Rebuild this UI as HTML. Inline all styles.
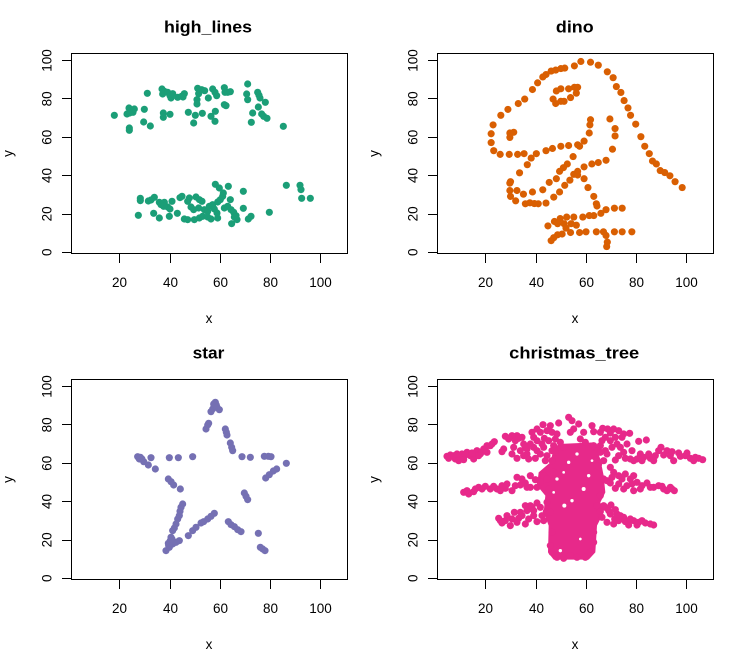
<!DOCTYPE html>
<html><head><meta charset="utf-8"><style>
html,body{margin:0;padding:0;background:#fff;}
svg{display:block;}
text{font-family:"Liberation Sans",Arial,sans-serif;fill:#000;}
.t{font-weight:bold;font-size:17px;}
.l{font-size:13.5px;}
</style></head><body>
<svg width="731" height="652" viewBox="0 0 731 652" xmlns="http://www.w3.org/2000/svg">
<rect width="731" height="652" fill="#fff"/>
<defs>
<g id="ax">
<rect x="71.5" y="53.5" width="276" height="200" fill="none" stroke="#000" stroke-width="1"/>
<g stroke="#000" stroke-width="1" shape-rendering="crispEdges">
<line x1="62" y1="252.5" x2="71" y2="252.5"/>
<line x1="62" y1="214.5" x2="71" y2="214.5"/>
<line x1="62" y1="175.5" x2="71" y2="175.5"/>
<line x1="62" y1="137.5" x2="71" y2="137.5"/>
<line x1="62" y1="98.5" x2="71" y2="98.5"/>
<line x1="62" y1="60.5" x2="71" y2="60.5"/>
<line x1="119.5" y1="254" x2="119.5" y2="263"/>
<line x1="170.5" y1="254" x2="170.5" y2="263"/>
<line x1="220.5" y1="254" x2="220.5" y2="263"/>
<line x1="270.5" y1="254" x2="270.5" y2="263"/>
<line x1="320.5" y1="254" x2="320.5" y2="263"/>
</g>
<g class="l" text-anchor="middle">
<text x="119.5" y="287">20</text>
<text x="170.5" y="287">40</text>
<text x="220.5" y="287">60</text>
<text x="270.5" y="287">80</text>
<text x="320.5" y="287">100</text>
<text transform="translate(51.6,252.2) rotate(-90)">0</text>
<text transform="translate(51.6,213.9) rotate(-90)">20</text>
<text transform="translate(51.6,175.5) rotate(-90)">40</text>
<text transform="translate(51.6,137.2) rotate(-90)">60</text>
<text transform="translate(51.6,98.9) rotate(-90)">80</text>
<text transform="translate(51.6,60.5) rotate(-90)">100</text>
<text x="209" y="323">x</text>
<text transform="translate(12.5,153.5) rotate(-90)">y</text>
</g>
</g>
</defs>

<!-- Panel 1: high_lines -->
<use href="#ax"/>
<text class="t" x="208" y="32.7" text-anchor="middle" textLength="88" lengthAdjust="spacingAndGlyphs">high_lines</text>
<g transform="translate(71,53) scale(0.33333)" fill="#1B9E77">
<circle cx="130" cy="187" r="10.7"/><circle cx="229" cy="121" r="10.7"/>
<circle cx="174" cy="165" r="10.7"/><circle cx="180" cy="172" r="10.7"/><circle cx="168" cy="183" r="10.7"/><circle cx="186" cy="178" r="10.7"/><circle cx="190" cy="168" r="10.7"/><circle cx="176" cy="180" r="10.7"/>
<circle cx="220" cy="169" r="10.7"/><circle cx="175" cy="225" r="10.7"/><circle cx="175" cy="232" r="10.7"/>
<circle cx="218" cy="207" r="10.7"/><circle cx="238" cy="219" r="10.7"/>
<circle cx="273" cy="108" r="10.7"/><circle cx="280" cy="115" r="10.7"/><circle cx="275" cy="123" r="10.7"/><circle cx="290" cy="118" r="10.7"/><circle cx="297" cy="128" r="10.7"/><circle cx="300" cy="135" r="10.7"/><circle cx="305" cy="122" r="10.7"/>
<circle cx="277" cy="180" r="10.7"/><circle cx="277" cy="193" r="10.7"/><circle cx="297" cy="184" r="10.7"/>
<circle cx="320" cy="133" r="10.7"/><circle cx="332" cy="130" r="10.7"/><circle cx="340" cy="122" r="10.7"/><circle cx="336" cy="132" r="10.7"/>
<circle cx="352" cy="178" r="10.7"/><circle cx="368" cy="210" r="10.7"/><circle cx="373" cy="187" r="10.7"/><circle cx="394" cy="181" r="10.7"/>
<circle cx="380" cy="106" r="10.7"/><circle cx="392" cy="110" r="10.7"/><circle cx="383" cy="122" r="10.7"/><circle cx="378" cy="140" r="10.7"/><circle cx="378" cy="153" r="10.7"/><circle cx="401" cy="113" r="10.7"/>
<circle cx="412" cy="135" r="10.7"/><circle cx="425" cy="108" r="10.7"/><circle cx="432" cy="118" r="10.7"/><circle cx="437" cy="128" r="10.7"/>
<circle cx="433" cy="175" r="10.7"/><circle cx="420" cy="190" r="10.7"/><circle cx="432" cy="205" r="10.7"/>
<circle cx="460" cy="104" r="10.7"/><circle cx="462" cy="118" r="10.7"/><circle cx="470" cy="118" r="10.7"/><circle cx="478" cy="116" r="10.7"/><circle cx="460" cy="155" r="10.7"/><circle cx="465" cy="158" r="10.7"/>
<circle cx="530" cy="93" r="10.7"/><circle cx="527" cy="123" r="10.7"/><circle cx="530" cy="140" r="10.7"/>
<circle cx="560" cy="118" r="10.7"/><circle cx="564" cy="127" r="10.7"/><circle cx="567" cy="135" r="10.7"/>
<circle cx="583" cy="148" r="10.7"/><circle cx="562" cy="162" r="10.7"/><circle cx="545" cy="180" r="10.7"/><circle cx="541" cy="208" r="10.7"/>
<circle cx="572" cy="183" r="10.7"/><circle cx="578" cy="190" r="10.7"/><circle cx="588" cy="196" r="10.7"/><circle cx="637" cy="220" r="10.7"/>
<circle cx="208" cy="436" r="10.7"/><circle cx="208" cy="443" r="10.7"/>
<circle cx="232" cy="444" r="10.7"/><circle cx="250" cy="433" r="10.7"/><circle cx="240" cy="441" r="10.7"/>
<circle cx="265" cy="448" r="10.7"/><circle cx="270" cy="455" r="10.7"/><circle cx="280" cy="448" r="10.7"/><circle cx="290" cy="462" r="10.7"/><circle cx="297" cy="468" r="10.7"/><circle cx="303" cy="445" r="10.7"/><circle cx="278" cy="460" r="10.7"/>
<circle cx="202" cy="487" r="10.7"/><circle cx="248" cy="481" r="10.7"/><circle cx="265" cy="495" r="10.7"/><circle cx="295" cy="490" r="10.7"/><circle cx="319" cy="481" r="10.7"/>
<circle cx="327" cy="434" r="10.7"/><circle cx="333" cy="430" r="10.7"/><circle cx="355" cy="435" r="10.7"/><circle cx="350" cy="445" r="10.7"/><circle cx="360" cy="462" r="10.7"/><circle cx="368" cy="470" r="10.7"/>
<circle cx="375" cy="432" r="10.7"/><circle cx="385" cy="440" r="10.7"/><circle cx="393" cy="445" r="10.7"/><circle cx="383" cy="465" r="10.7"/>
<circle cx="340" cy="498" r="10.7"/><circle cx="350" cy="500" r="10.7"/><circle cx="370" cy="500" r="10.7"/><circle cx="385" cy="495" r="10.7"/><circle cx="395" cy="490" r="10.7"/><circle cx="410" cy="492" r="10.7"/><circle cx="420" cy="498" r="10.7"/><circle cx="440" cy="495" r="10.7"/>
<circle cx="400" cy="470" r="10.7"/><circle cx="410" cy="475" r="10.7"/><circle cx="415" cy="460" r="10.7"/><circle cx="425" cy="455" r="10.7"/><circle cx="430" cy="468" r="10.7"/><circle cx="438" cy="480" r="10.7"/><circle cx="440" cy="447" r="10.7"/><circle cx="448" cy="440" r="10.7"/><circle cx="455" cy="430" r="10.7"/>
<circle cx="433" cy="394" r="10.7"/><circle cx="445" cy="405" r="10.7"/><circle cx="457" cy="420" r="10.7"/><circle cx="472" cy="400" r="10.7"/><circle cx="478" cy="440" r="10.7"/>
<circle cx="460" cy="465" r="10.7"/><circle cx="470" cy="460" r="10.7"/><circle cx="480" cy="470" r="10.7"/><circle cx="488" cy="478" r="10.7"/><circle cx="495" cy="488" r="10.7"/><circle cx="498" cy="500" r="10.7"/><circle cx="490" cy="492" r="10.7"/><circle cx="482" cy="512" r="10.7"/>
<circle cx="517" cy="415" r="10.7"/><circle cx="517" cy="466" r="10.7"/><circle cx="532" cy="498" r="10.7"/><circle cx="540" cy="490" r="10.7"/>
<circle cx="595" cy="478" r="10.7"/><circle cx="646" cy="397" r="10.7"/>
<circle cx="687" cy="397" r="10.7"/><circle cx="690" cy="410" r="10.7"/><circle cx="692" cy="436" r="10.7"/><circle cx="718" cy="436" r="10.7"/>
</g>

<!-- Panel 2: dino -->
<use href="#ax" transform="translate(366,0)"/>
<text class="t" x="574.8" y="32.7" text-anchor="middle" textLength="37.7" lengthAdjust="spacingAndGlyphs">dino</text>
<g transform="translate(435,252.2) scale(2.517,-1.917)" fill="#D95F02">
<ellipse rx="1.42" ry="1.86" cx="55.38" cy="97.18"/><ellipse rx="1.42" ry="1.86" cx="51.54" cy="96.03"/><ellipse rx="1.42" ry="1.86" cx="46.15" cy="94.49"/><ellipse rx="1.42" ry="1.86" cx="42.82" cy="91.41"/><ellipse rx="1.42" ry="1.86" cx="40.77" cy="88.33"/><ellipse rx="1.42" ry="1.86" cx="38.72" cy="84.87"/><ellipse rx="1.42" ry="1.86" cx="35.64" cy="79.87"/><ellipse rx="1.42" ry="1.86" cx="33.08" cy="77.56"/><ellipse rx="1.42" ry="1.86" cx="28.97" cy="74.49"/><ellipse rx="1.42" ry="1.86" cx="26.15" cy="71.41"/><ellipse rx="1.42" ry="1.86" cx="23.08" cy="66.41"/><ellipse rx="1.42" ry="1.86" cx="22.31" cy="61.79"/><ellipse rx="1.42" ry="1.86" cx="22.31" cy="57.18"/><ellipse rx="1.42" ry="1.86" cx="23.33" cy="52.95"/><ellipse rx="1.42" ry="1.86" cx="25.90" cy="51.03"/><ellipse rx="1.42" ry="1.86" cx="29.49" cy="51.03"/><ellipse rx="1.42" ry="1.86" cx="32.82" cy="51.03"/><ellipse rx="1.42" ry="1.86" cx="35.38" cy="51.41"/><ellipse rx="1.42" ry="1.86" cx="40.26" cy="51.41"/><ellipse rx="1.42" ry="1.86" cx="44.10" cy="52.95"/><ellipse rx="1.42" ry="1.86" cx="46.67" cy="54.10"/><ellipse rx="1.42" ry="1.86" cx="50.00" cy="55.26"/><ellipse rx="1.42" ry="1.86" cx="53.08" cy="55.64"/><ellipse rx="1.42" ry="1.86" cx="56.67" cy="56.03"/><ellipse rx="1.42" ry="1.86" cx="59.23" cy="57.95"/><ellipse rx="1.42" ry="1.86" cx="61.28" cy="62.18"/><ellipse rx="1.42" ry="1.86" cx="61.54" cy="66.41"/><ellipse rx="1.42" ry="1.86" cx="61.79" cy="69.10"/><ellipse rx="1.42" ry="1.86" cx="57.44" cy="55.26"/><ellipse rx="1.42" ry="1.86" cx="54.87" cy="49.87"/><ellipse rx="1.42" ry="1.86" cx="52.56" cy="46.03"/><ellipse rx="1.42" ry="1.86" cx="48.21" cy="38.33"/><ellipse rx="1.42" ry="1.86" cx="49.49" cy="42.18"/><ellipse rx="1.42" ry="1.86" cx="51.03" cy="44.10"/><ellipse rx="1.42" ry="1.86" cx="45.38" cy="36.41"/><ellipse rx="1.42" ry="1.86" cx="42.82" cy="32.56"/><ellipse rx="1.42" ry="1.86" cx="38.72" cy="31.41"/><ellipse rx="1.42" ry="1.86" cx="35.13" cy="30.26"/><ellipse rx="1.42" ry="1.86" cx="32.56" cy="32.18"/><ellipse rx="1.42" ry="1.86" cx="30.00" cy="36.79"/><ellipse rx="1.42" ry="1.86" cx="33.59" cy="41.41"/><ellipse rx="1.42" ry="1.86" cx="36.67" cy="45.64"/><ellipse rx="1.42" ry="1.86" cx="38.21" cy="49.10"/><ellipse rx="1.42" ry="1.86" cx="29.74" cy="36.03"/><ellipse rx="1.42" ry="1.86" cx="29.74" cy="32.18"/><ellipse rx="1.42" ry="1.86" cx="30.00" cy="29.10"/><ellipse rx="1.42" ry="1.86" cx="32.05" cy="26.79"/><ellipse rx="1.42" ry="1.86" cx="35.90" cy="25.26"/><ellipse rx="1.42" ry="1.86" cx="41.03" cy="25.26"/><ellipse rx="1.42" ry="1.86" cx="44.10" cy="25.64"/><ellipse rx="1.42" ry="1.86" cx="47.18" cy="28.72"/><ellipse rx="1.42" ry="1.86" cx="49.49" cy="31.41"/><ellipse rx="1.42" ry="1.86" cx="51.54" cy="34.87"/><ellipse rx="1.42" ry="1.86" cx="53.59" cy="37.56"/><ellipse rx="1.42" ry="1.86" cx="55.13" cy="40.64"/><ellipse rx="1.42" ry="1.86" cx="56.67" cy="42.18"/><ellipse rx="1.42" ry="1.86" cx="59.23" cy="44.49"/><ellipse rx="1.42" ry="1.86" cx="62.31" cy="46.03"/><ellipse rx="1.42" ry="1.86" cx="64.87" cy="46.79"/><ellipse rx="1.42" ry="1.86" cx="67.95" cy="47.95"/><ellipse rx="1.42" ry="1.86" cx="70.51" cy="53.72"/><ellipse rx="1.42" ry="1.86" cx="71.54" cy="60.64"/><ellipse rx="1.42" ry="1.86" cx="71.54" cy="64.49"/><ellipse rx="1.42" ry="1.86" cx="69.49" cy="69.49"/><ellipse rx="1.42" ry="1.86" cx="46.92" cy="79.87"/><ellipse rx="1.42" ry="1.86" cx="48.21" cy="84.10"/><ellipse rx="1.42" ry="1.86" cx="50.00" cy="85.26"/><ellipse rx="1.42" ry="1.86" cx="53.08" cy="85.26"/><ellipse rx="1.42" ry="1.86" cx="55.38" cy="86.03"/><ellipse rx="1.42" ry="1.86" cx="56.67" cy="86.03"/><ellipse rx="1.42" ry="1.86" cx="56.15" cy="82.95"/><ellipse rx="1.42" ry="1.86" cx="53.85" cy="80.64"/><ellipse rx="1.42" ry="1.86" cx="51.28" cy="78.72"/><ellipse rx="1.42" ry="1.86" cx="50.00" cy="78.72"/><ellipse rx="1.42" ry="1.86" cx="47.95" cy="77.56"/><ellipse rx="1.42" ry="1.86" cx="29.74" cy="59.87"/><ellipse rx="1.42" ry="1.86" cx="29.74" cy="62.18"/><ellipse rx="1.42" ry="1.86" cx="31.28" cy="62.56"/><ellipse rx="1.42" ry="1.86" cx="57.95" cy="99.49"/><ellipse rx="1.42" ry="1.86" cx="61.79" cy="99.10"/><ellipse rx="1.42" ry="1.86" cx="64.87" cy="97.56"/><ellipse rx="1.42" ry="1.86" cx="68.46" cy="94.10"/><ellipse rx="1.42" ry="1.86" cx="70.77" cy="91.03"/><ellipse rx="1.42" ry="1.86" cx="72.05" cy="86.41"/><ellipse rx="1.42" ry="1.86" cx="73.85" cy="83.33"/><ellipse rx="1.42" ry="1.86" cx="75.13" cy="79.10"/><ellipse rx="1.42" ry="1.86" cx="76.67" cy="75.26"/><ellipse rx="1.42" ry="1.86" cx="77.69" cy="71.41"/><ellipse rx="1.42" ry="1.86" cx="79.74" cy="66.79"/><ellipse rx="1.42" ry="1.86" cx="81.79" cy="60.26"/><ellipse rx="1.42" ry="1.86" cx="83.33" cy="55.26"/><ellipse rx="1.42" ry="1.86" cx="85.13" cy="51.41"/><ellipse rx="1.42" ry="1.86" cx="86.41" cy="47.56"/><ellipse rx="1.42" ry="1.86" cx="87.95" cy="46.03"/><ellipse rx="1.42" ry="1.86" cx="89.49" cy="42.56"/><ellipse rx="1.42" ry="1.86" cx="93.33" cy="39.87"/><ellipse rx="1.42" ry="1.86" cx="95.38" cy="36.79"/><ellipse rx="1.42" ry="1.86" cx="98.21" cy="33.72"/><ellipse rx="1.42" ry="1.86" cx="56.67" cy="40.26"/><ellipse rx="1.42" ry="1.86" cx="59.23" cy="38.33"/><ellipse rx="1.42" ry="1.86" cx="60.77" cy="33.72"/><ellipse rx="1.42" ry="1.86" cx="63.08" cy="29.10"/><ellipse rx="1.42" ry="1.86" cx="64.10" cy="25.26"/><ellipse rx="1.42" ry="1.86" cx="64.36" cy="24.10"/><ellipse rx="1.42" ry="1.86" cx="74.36" cy="22.95"/><ellipse rx="1.42" ry="1.86" cx="71.28" cy="22.95"/><ellipse rx="1.42" ry="1.86" cx="67.95" cy="22.18"/><ellipse rx="1.42" ry="1.86" cx="65.90" cy="20.26"/><ellipse rx="1.42" ry="1.86" cx="63.08" cy="19.10"/><ellipse rx="1.42" ry="1.86" cx="61.28" cy="19.10"/><ellipse rx="1.42" ry="1.86" cx="58.72" cy="18.33"/><ellipse rx="1.42" ry="1.86" cx="55.13" cy="18.33"/><ellipse rx="1.42" ry="1.86" cx="52.31" cy="18.33"/><ellipse rx="1.42" ry="1.86" cx="49.74" cy="17.56"/><ellipse rx="1.42" ry="1.86" cx="47.44" cy="16.03"/><ellipse rx="1.42" ry="1.86" cx="44.87" cy="13.72"/><ellipse rx="1.42" ry="1.86" cx="48.72" cy="14.87"/><ellipse rx="1.42" ry="1.86" cx="51.28" cy="14.87"/><ellipse rx="1.42" ry="1.86" cx="54.10" cy="14.87"/><ellipse rx="1.42" ry="1.86" cx="56.15" cy="14.10"/><ellipse rx="1.42" ry="1.86" cx="52.05" cy="12.56"/><ellipse rx="1.42" ry="1.86" cx="48.72" cy="9.10"/><ellipse rx="1.42" ry="1.86" cx="47.18" cy="7.56"/><ellipse rx="1.42" ry="1.86" cx="46.15" cy="6.03"/><ellipse rx="1.42" ry="1.86" cx="50.51" cy="9.49"/><ellipse rx="1.42" ry="1.86" cx="53.85" cy="10.26"/><ellipse rx="1.42" ry="1.86" cx="57.44" cy="10.26"/><ellipse rx="1.42" ry="1.86" cx="60.00" cy="10.64"/><ellipse rx="1.42" ry="1.86" cx="64.10" cy="10.64"/><ellipse rx="1.42" ry="1.86" cx="66.92" cy="10.64"/><ellipse rx="1.42" ry="1.86" cx="71.28" cy="10.64"/><ellipse rx="1.42" ry="1.86" cx="74.36" cy="10.64"/><ellipse rx="1.42" ry="1.86" cx="78.21" cy="10.64"/><ellipse rx="1.42" ry="1.86" cx="67.95" cy="8.72"/><ellipse rx="1.42" ry="1.86" cx="68.46" cy="5.26"/><ellipse rx="1.42" ry="1.86" cx="68.21" cy="2.95"/><ellipse rx="1.42" ry="1.86" cx="37.69" cy="25.77"/><ellipse rx="1.42" ry="1.86" cx="39.49" cy="25.38"/><ellipse rx="1.42" ry="1.86" cx="91.28" cy="41.54"/><ellipse rx="1.42" ry="1.86" cx="50.00" cy="95.77"/><ellipse rx="1.42" ry="1.86" cx="47.95" cy="95.00"/><ellipse rx="1.42" ry="1.86" cx="44.10" cy="92.69"/>
</g>

<!-- Panel 3: star -->
<use href="#ax" transform="translate(0,326)"/>
<text class="t" x="208.5" y="358.7" text-anchor="middle" textLength="31.7" lengthAdjust="spacingAndGlyphs">star</text>
<g transform="translate(71,379) scale(0.33333)" fill="#7570B3">
<circle cx="433" cy="70" r="10.7"/><circle cx="430" cy="80" r="10.7"/><circle cx="425" cy="90" r="10.7"/><circle cx="420" cy="98" r="10.7"/><circle cx="438" cy="85" r="10.7"/><circle cx="445" cy="92" r="10.7"/><circle cx="428" cy="75" r="10.7"/><circle cx="436" cy="78" r="10.7"/>
<circle cx="410" cy="138" r="10.7"/><circle cx="405" cy="150" r="10.7"/><circle cx="413" cy="133" r="10.7"/>
<circle cx="463" cy="150" r="10.7"/><circle cx="466" cy="160" r="10.7"/><circle cx="468" cy="168" r="10.7"/>
<circle cx="478" cy="192" r="10.7"/><circle cx="482" cy="205" r="10.7"/><circle cx="485" cy="215" r="10.7"/>
<circle cx="513" cy="233" r="10.7"/><circle cx="538" cy="235" r="10.7"/>
<circle cx="580" cy="232" r="10.7"/><circle cx="592" cy="232" r="10.7"/><circle cx="600" cy="233" r="10.7"/>
<circle cx="646" cy="253" r="10.7"/>
<circle cx="617" cy="270" r="10.7"/><circle cx="607" cy="276" r="10.7"/><circle cx="595" cy="287" r="10.7"/><circle cx="584" cy="297" r="10.7"/>
<circle cx="520" cy="342" r="10.7"/><circle cx="525" cy="352" r="10.7"/><circle cx="530" cy="362" r="10.7"/>
<circle cx="472" cy="428" r="10.7"/><circle cx="480" cy="437" r="10.7"/><circle cx="490" cy="443" r="10.7"/><circle cx="500" cy="452" r="10.7"/><circle cx="510" cy="458" r="10.7"/>
<circle cx="562" cy="463" r="10.7"/>
<circle cx="568" cy="505" r="10.7"/><circle cx="575" cy="510" r="10.7"/><circle cx="582" cy="515" r="10.7"/>
<circle cx="430" cy="403" r="10.7"/><circle cx="420" cy="412" r="10.7"/><circle cx="410" cy="420" r="10.7"/><circle cx="398" cy="428" r="10.7"/><circle cx="390" cy="432" r="10.7"/>
<circle cx="375" cy="445" r="10.7"/><circle cx="365" cy="455" r="10.7"/><circle cx="352" cy="470" r="10.7"/>
<circle cx="335" cy="375" r="10.7"/><circle cx="330" cy="385" r="10.7"/><circle cx="327" cy="397" r="10.7"/><circle cx="325" cy="410" r="10.7"/><circle cx="320" cy="420" r="10.7"/><circle cx="315" cy="435" r="10.7"/><circle cx="310" cy="447" r="10.7"/><circle cx="305" cy="455" r="10.7"/>
<circle cx="300" cy="475" r="10.7"/><circle cx="298" cy="485" r="10.7"/><circle cx="292" cy="493" r="10.7"/><circle cx="285" cy="515" r="10.7"/><circle cx="295" cy="505" r="10.7"/><circle cx="305" cy="495" r="10.7"/><circle cx="315" cy="490" r="10.7"/><circle cx="325" cy="485" r="10.7"/><circle cx="303" cy="480" r="10.7"/><circle cx="293" cy="500" r="10.7"/>
<circle cx="292" cy="300" r="10.7"/><circle cx="300" cy="308" r="10.7"/><circle cx="308" cy="318" r="10.7"/><circle cx="328" cy="330" r="10.7"/>
<circle cx="200" cy="233" r="10.7"/><circle cx="208" cy="235" r="10.7"/><circle cx="213" cy="240" r="10.7"/><circle cx="218" cy="248" r="10.7"/><circle cx="232" cy="258" r="10.7"/><circle cx="253" cy="270" r="10.7"/><circle cx="240" cy="236" r="10.7"/><circle cx="205" cy="240" r="10.7"/>
<circle cx="295" cy="236" r="10.7"/><circle cx="322" cy="236" r="10.7"/><circle cx="365" cy="233" r="10.7"/>
</g>

<!-- Panel 4: christmas_tree -->
<use href="#ax" transform="translate(366,326)"/>
<text class="t" x="574.2" y="358.7" text-anchor="middle" textLength="130" lengthAdjust="spacingAndGlyphs">christmas_tree</text>
<g transform="translate(437,379) scale(0.33333)" fill="#E7298A">
<path d="M365,195 L470,190 L490,240 L500,290 L505,340 L490,370 L500,400 L480,440 L475,520 L455,542 L350,542 L333,520 L335,440 L320,400 L325,350 L300,320 L305,280 L340,250 L350,210 Z"/>
<circle cx="395" cy="115" r="10.7"/><circle cx="405" cy="125" r="10.7"/><circle cx="425" cy="135" r="10.7"/><circle cx="410" cy="150" r="10.7"/><circle cx="365" cy="132" r="10.7"/><circle cx="318" cy="137" r="10.7"/><circle cx="300" cy="150" r="10.7"/><circle cx="310" cy="160" r="10.7"/><circle cx="330" cy="155" r="10.7"/><circle cx="345" cy="160" r="10.7"/><circle cx="360" cy="165" r="10.7"/><circle cx="322" cy="178" r="10.7"/><circle cx="300" cy="185" r="10.7"/><circle cx="290" cy="175" r="10.7"/><circle cx="440" cy="160" r="10.7"/><circle cx="465" cy="140" r="10.7"/><circle cx="470" cy="158" r="10.7"/><circle cx="497" cy="148" r="10.7"/><circle cx="512" cy="150" r="10.7"/><circle cx="520" cy="162" r="10.7"/><circle cx="545" cy="155" r="10.7"/><circle cx="560" cy="165" r="10.7"/><circle cx="578" cy="163" r="10.7"/><circle cx="505" cy="175" r="10.7"/><circle cx="520" cy="185" r="10.7"/><circle cx="540" cy="195" r="10.7"/><circle cx="550" cy="205" r="10.7"/><circle cx="490" cy="200" r="10.7"/><circle cx="480" cy="210" r="10.7"/><circle cx="445" cy="190" r="10.7"/><circle cx="430" cy="180" r="10.7"/><circle cx="400" cy="160" r="10.7"/><circle cx="370" cy="190" r="10.7"/><circle cx="350" cy="200" r="10.7"/><circle cx="320" cy="205" r="10.7"/><circle cx="290" cy="205" r="10.7"/><circle cx="270" cy="210" r="10.7"/><circle cx="255" cy="175" r="10.7"/><circle cx="240" cy="170" r="10.7"/><circle cx="225" cy="170" r="10.7"/><circle cx="215" cy="180" r="10.7"/><circle cx="235" cy="185" r="10.7"/><circle cx="260" cy="195" r="10.7"/>
<circle cx="205" cy="172" r="10.7"/><circle cx="245" cy="178" r="10.7"/><circle cx="265" cy="205" r="10.7"/><circle cx="280" cy="195" r="10.7"/><circle cx="300" cy="215" r="10.7"/><circle cx="315" cy="195" r="10.7"/><circle cx="335" cy="185" r="10.7"/><circle cx="345" cy="215" r="10.7"/><circle cx="325" cy="245" r="10.7"/><circle cx="270" cy="225" r="10.7"/><circle cx="250" cy="215" r="10.7"/><circle cx="230" cy="205" r="10.7"/><circle cx="285" cy="160" r="10.7"/><circle cx="340" cy="140" r="10.7"/><circle cx="355" cy="180" r="10.7"/>
<circle cx="490" cy="160" r="10.7"/><circle cx="530" cy="150" r="10.7"/><circle cx="535" cy="175" r="10.7"/><circle cx="555" cy="175" r="10.7"/><circle cx="570" cy="195" r="10.7"/><circle cx="525" cy="205" r="10.7"/><circle cx="505" cy="215" r="10.7"/><circle cx="560" cy="220" r="10.7"/><circle cx="585" cy="215" r="10.7"/><circle cx="545" cy="230" r="10.7"/><circle cx="590" cy="245" r="10.7"/><circle cx="610" cy="225" r="10.7"/><circle cx="495" cy="185" r="10.7"/><circle cx="470" cy="225" r="10.7"/>
<circle cx="30" cy="232" r="10.7"/><circle cx="40" cy="228" r="10.7"/><circle cx="55" cy="240" r="10.7"/><circle cx="65" cy="245" r="10.7"/><circle cx="75" cy="225" r="10.7"/><circle cx="90" cy="220" r="10.7"/><circle cx="100" cy="230" r="10.7"/><circle cx="110" cy="240" r="10.7"/><circle cx="120" cy="215" r="10.7"/><circle cx="130" cy="225" r="10.7"/><circle cx="140" cy="210" r="10.7"/><circle cx="150" cy="220" r="10.7"/><circle cx="160" cy="200" r="10.7"/><circle cx="172" cy="188" r="10.7"/><circle cx="200" cy="210" r="10.7"/><circle cx="195" cy="218" r="10.7"/><circle cx="225" cy="225" r="10.7"/><circle cx="240" cy="238" r="10.7"/><circle cx="260" cy="230" r="10.7"/><circle cx="275" cy="240" r="10.7"/><circle cx="295" cy="238" r="10.7"/><circle cx="310" cy="225" r="10.7"/><circle cx="330" cy="230" r="10.7"/><circle cx="345" cy="245" r="10.7"/><circle cx="115" cy="228" r="10.7"/><circle cx="135" cy="218" r="10.7"/>
<circle cx="35" cy="238" r="10.7"/><circle cx="50" cy="230" r="10.7"/><circle cx="70" cy="235" r="10.7"/><circle cx="85" cy="228" r="10.7"/><circle cx="105" cy="222" r="10.7"/><circle cx="125" cy="230" r="10.7"/><circle cx="145" cy="215" r="10.7"/><circle cx="165" cy="195" r="10.7"/><circle cx="150" cy="200" r="10.7"/><circle cx="60" cy="225" r="10.7"/><circle cx="80" cy="242" r="10.7"/>
<circle cx="605" cy="187" r="10.7"/><circle cx="628" cy="183" r="10.7"/><circle cx="580" cy="240" r="10.7"/><circle cx="600" cy="240" r="10.7"/><circle cx="565" cy="238" r="10.7"/><circle cx="620" cy="235" r="10.7"/><circle cx="640" cy="238" r="10.7"/><circle cx="655" cy="230" r="10.7"/><circle cx="672" cy="205" r="10.7"/><circle cx="690" cy="215" r="10.7"/><circle cx="700" cy="230" r="10.7"/><circle cx="710" cy="245" r="10.7"/><circle cx="725" cy="222" r="10.7"/><circle cx="745" cy="230" r="10.7"/><circle cx="760" cy="238" r="10.7"/><circle cx="775" cy="235" r="10.7"/><circle cx="797" cy="242" r="10.7"/><circle cx="535" cy="243" r="10.7"/><circle cx="510" cy="225" r="10.7"/><circle cx="500" cy="245" r="10.7"/><circle cx="520" cy="265" r="10.7"/><circle cx="485" cy="255" r="10.7"/>
<circle cx="635" cy="225" r="10.7"/><circle cx="665" cy="215" r="10.7"/><circle cx="680" cy="228" r="10.7"/><circle cx="705" cy="218" r="10.7"/><circle cx="730" cy="232" r="10.7"/><circle cx="750" cy="222" r="10.7"/><circle cx="770" cy="245" r="10.7"/><circle cx="785" cy="238" r="10.7"/><circle cx="650" cy="245" r="10.7"/><circle cx="615" cy="245" r="10.7"/>
<circle cx="80" cy="340" r="10.7"/><circle cx="95" cy="345" r="10.7"/><circle cx="110" cy="338" r="10.7"/><circle cx="125" cy="325" r="10.7"/><circle cx="145" cy="322" r="10.7"/><circle cx="160" cy="330" r="10.7"/><circle cx="180" cy="330" r="10.7"/><circle cx="195" cy="320" r="10.7"/><circle cx="210" cy="315" r="10.7"/><circle cx="225" cy="335" r="10.7"/><circle cx="240" cy="295" r="10.7"/><circle cx="250" cy="318" r="10.7"/><circle cx="265" cy="312" r="10.7"/><circle cx="280" cy="325" r="10.7"/><circle cx="295" cy="302" r="10.7"/><circle cx="300" cy="325" r="10.7"/><circle cx="320" cy="290" r="10.7"/><circle cx="280" cy="290" r="10.7"/>
<circle cx="90" cy="335" r="10.7"/><circle cx="135" cy="330" r="10.7"/><circle cx="170" cy="322" r="10.7"/><circle cx="205" cy="328" r="10.7"/><circle cx="235" cy="320" r="10.7"/><circle cx="255" cy="300" r="10.7"/><circle cx="270" cy="325" r="10.7"/><circle cx="310" cy="310" r="10.7"/><circle cx="190" cy="335" r="10.7"/><circle cx="115" cy="330" r="10.7"/>
<circle cx="500" cy="300" r="10.7"/><circle cx="520" cy="312" r="10.7"/><circle cx="535" cy="328" r="10.7"/><circle cx="555" cy="300" r="10.7"/><circle cx="545" cy="290" r="10.7"/><circle cx="570" cy="320" r="10.7"/><circle cx="590" cy="335" r="10.7"/><circle cx="600" cy="310" r="10.7"/><circle cx="615" cy="320" r="10.7"/><circle cx="630" cy="312" r="10.7"/><circle cx="650" cy="325" r="10.7"/><circle cx="665" cy="320" r="10.7"/><circle cx="680" cy="330" r="10.7"/><circle cx="700" cy="325" r="10.7"/><circle cx="712" cy="335" r="10.7"/><circle cx="530" cy="280" r="10.7"/><circle cx="565" cy="285" r="10.7"/><circle cx="580" cy="300" r="10.7"/>
<circle cx="510" cy="305" r="10.7"/><circle cx="545" cy="315" r="10.7"/><circle cx="560" cy="330" r="10.7"/><circle cx="585" cy="315" r="10.7"/><circle cx="610" cy="330" r="10.7"/><circle cx="640" cy="325" r="10.7"/><circle cx="675" cy="322" r="10.7"/><circle cx="690" cy="335" r="10.7"/><circle cx="705" cy="330" r="10.7"/><circle cx="525" cy="295" r="10.7"/><circle cx="590" cy="290" r="10.7"/>
<circle cx="185" cy="418" r="10.7"/><circle cx="195" cy="432" r="10.7"/><circle cx="210" cy="410" r="10.7"/><circle cx="220" cy="440" r="10.7"/><circle cx="232" cy="400" r="10.7"/><circle cx="245" cy="418" r="10.7"/><circle cx="265" cy="435" r="10.7"/><circle cx="270" cy="395" r="10.7"/><circle cx="285" cy="385" r="10.7"/><circle cx="300" cy="372" r="10.7"/><circle cx="300" cy="428" r="10.7"/><circle cx="315" cy="410" r="10.7"/><circle cx="328" cy="398" r="10.7"/><circle cx="290" cy="410" r="10.7"/><circle cx="280" cy="380" r="10.7"/><circle cx="250" cy="400" r="10.7"/>
<circle cx="190" cy="425" r="10.7"/><circle cx="205" cy="425" r="10.7"/><circle cx="225" cy="420" r="10.7"/><circle cx="240" cy="430" r="10.7"/><circle cx="255" cy="410" r="10.7"/><circle cx="275" cy="420" r="10.7"/><circle cx="290" cy="395" r="10.7"/><circle cx="310" cy="385" r="10.7"/><circle cx="320" cy="425" r="10.7"/><circle cx="265" cy="380" r="10.7"/>
<circle cx="490" cy="398" r="10.7"/><circle cx="505" cy="385" r="10.7"/><circle cx="520" cy="405" r="10.7"/><circle cx="533" cy="420" r="10.7"/><circle cx="545" cy="425" r="10.7"/><circle cx="560" cy="415" r="10.7"/><circle cx="575" cy="438" r="10.7"/><circle cx="590" cy="425" r="10.7"/><circle cx="605" cy="430" r="10.7"/><circle cx="625" cy="432" r="10.7"/><circle cx="650" cy="438" r="10.7"/><circle cx="510" cy="430" r="10.7"/><circle cx="522" cy="378" r="10.7"/><circle cx="540" cy="405" r="10.7"/>
<circle cx="495" cy="415" r="10.7"/><circle cx="515" cy="395" r="10.7"/><circle cx="530" cy="435" r="10.7"/><circle cx="550" cy="410" r="10.7"/><circle cx="565" cy="428" r="10.7"/><circle cx="580" cy="420" r="10.7"/><circle cx="600" cy="438" r="10.7"/><circle cx="615" cy="425" r="10.7"/><circle cx="640" cy="435" r="10.7"/><circle cx="500" cy="380" r="10.7"/><circle cx="535" cy="392" r="10.7"/>
<circle cx="345" cy="460" r="10.7"/><circle cx="340" cy="500" r="10.7"/><circle cx="345" cy="520" r="10.7"/><circle cx="360" cy="535" r="10.7"/><circle cx="380" cy="538" r="10.7"/><circle cx="400" cy="530" r="10.7"/><circle cx="420" cy="535" r="10.7"/><circle cx="445" cy="535" r="10.7"/><circle cx="460" cy="520" r="10.7"/><circle cx="470" cy="490" r="10.7"/><circle cx="470" cy="460" r="10.7"/><circle cx="340" cy="400" r="10.7"/><circle cx="330" cy="370" r="10.7"/><circle cx="480" cy="380" r="10.7"/><circle cx="490" cy="350" r="10.7"/><circle cx="335" cy="330" r="10.7"/><circle cx="330" cy="300" r="10.7"/><circle cx="350" cy="280" r="10.7"/><circle cx="480" cy="260" r="10.7"/><circle cx="490" cy="220" r="10.7"/><circle cx="470" cy="200" r="10.7"/><circle cx="380" cy="205" r="10.7"/><circle cx="355" cy="220" r="10.7"/>
</g>
<g transform="translate(437,379) scale(0.33333)" fill="#fff">
<circle cx="382" cy="380" r="6"/><circle cx="405" cy="365" r="5"/><circle cx="440" cy="330" r="6"/><circle cx="395" cy="250" r="5"/><circle cx="455" cy="290" r="5"/><circle cx="370" cy="515" r="5"/><circle cx="430" cy="480" r="4"/><circle cx="360" cy="300" r="5"/><circle cx="420" cy="225" r="5"/><circle cx="380" cy="280" r="4"/><circle cx="465" cy="245" r="4"/><circle cx="350" cy="340" r="4"/>
</g>
</svg>
</body></html>
